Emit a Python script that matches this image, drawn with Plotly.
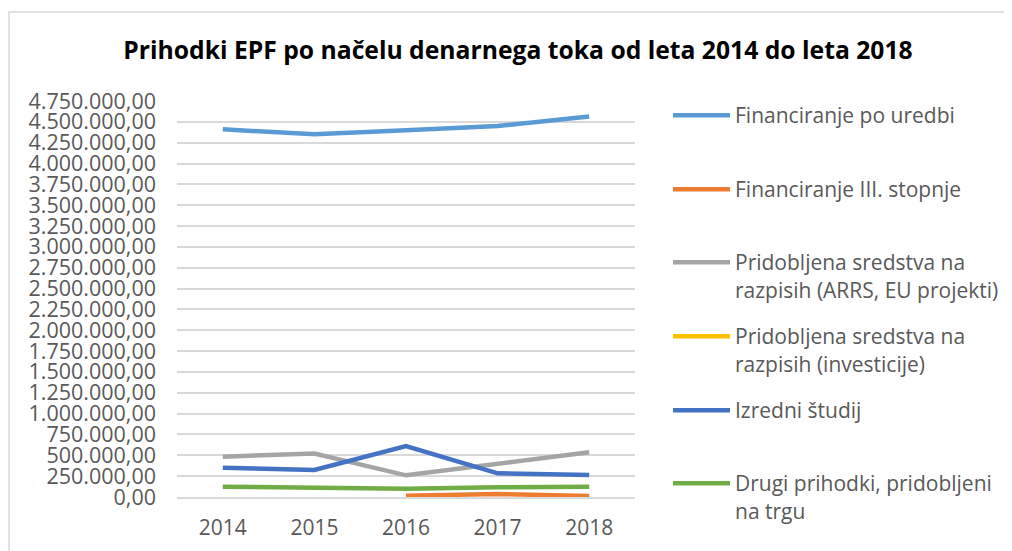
import plotly.graph_objects as go

years = ["2014", "2015", "2016", "2017", "2018"]
financiranje_po_uredbi = [4410000, 4350000, 4400000, 4450000, 4565000]
financiranje_iii = [None, None, 16000, 36000, 12000]
pridobljena_arrs_eu = [483000, 522000, 260000, 404000, 536000]
pridobljena_investicije = [None, None, None, None, None]
izredni_studij = [351000, 324000, 612000, 284000, 264000]
drugi_prihodki = [124000, 112000, 100000, 116000, 124000]

series_names = [
    "Financiranje po uredbi",
    "Financiranje III. stopnje",
    "Pridobljena sredstva na<br>razpisih (ARRS, EU projekti)",
    "Pridobljena sredstva na<br>razpisih (investicije)",
    "Izredni študij",
    "Drugi prihodki, pridobljeni<br>na trgu",
]
series_values = [financiranje_po_uredbi, financiranje_iii, pridobljena_arrs_eu,
                 pridobljena_investicije, izredni_studij, drugi_prihodki]
colors = ["#5B9BD5", "#ED7D31", "#A5A5A5", "#FFC000", "#4472C4", "#70AD47"]
legend_tops = [87, 161, 234, 308, 382, 455]

W, H = 1004, 543
L, R, T, B = 169, 377, 93, 54
FONT = "Open Sans"
TXT = "#595959"

fig = go.Figure()
layout_legends = {}
for i, (name, vals, col) in enumerate(zip(series_names, series_values, colors)):
    lg = "legend" if i == 0 else f"legend{i+1}"
    fig.add_trace(go.Scatter(
        x=years, y=vals, name=name, mode="lines",
        line=dict(color=col, width=4.5),
        connectgaps=False, legend=lg, showlegend=True,
    ))
    layout_legends[lg] = dict(
        x=660 / W, y=1 - legend_tops[i] / H, xref="container", yref="container",
        xanchor="left", yanchor="top", bgcolor="rgba(0,0,0,0)",
        font=dict(family=FONT, size=21, color=TXT), valign="top",
        itemwidth=57,
    )

pw = W - L - R
ph = H - T - B
fig.add_shape(type="rect", xref="paper", yref="paper",
              x0=(1 - L) / pw, x1=(W + 5 - L) / pw,
              y0=(H - B - (H + 5)) / ph, y1=(H - B - 4) / ph,
              line=dict(color="#D9D9D9", width=1.5), fillcolor="rgba(0,0,0,0)",
              layer="below")

fig.update_layout(
    width=W, height=H,
    margin=dict(l=L, r=R, t=T, b=B, autoexpand=False),
    paper_bgcolor="white", plot_bgcolor="white",
    separators=",.",
    title=dict(text="<b>Prihodki EPF po načelu denarnega toka od leta 2014 do leta 2018</b>",
               x=510 / W, xanchor="center", y=1 - 42 / H, yanchor="middle",
               xref="container", yref="container",
               font=dict(family=FONT, size=24.7, color="#000000")),
    xaxis=dict(type="category", range=[-0.5, 4.5], showgrid=False, zeroline=False,
               showline=True, linecolor="#D9D9D9", linewidth=1.5, ticks="",
               automargin=False,
               tickfont=dict(family=FONT, size=21, color=TXT), ticklabelstandoff=11),
    yaxis=dict(range=[0, 4750000], dtick=250000, tick0=0, tickformat=",.2f",
               showgrid=True, gridcolor="#D9D9D9", gridwidth=1.5, zeroline=False,
               showline=False, ticks="", automargin=False,
               tickfont=dict(family=FONT, size=21.5, color=TXT), ticklabelstandoff=20),
    **layout_legends,
)

fig.write_html("out.html")
